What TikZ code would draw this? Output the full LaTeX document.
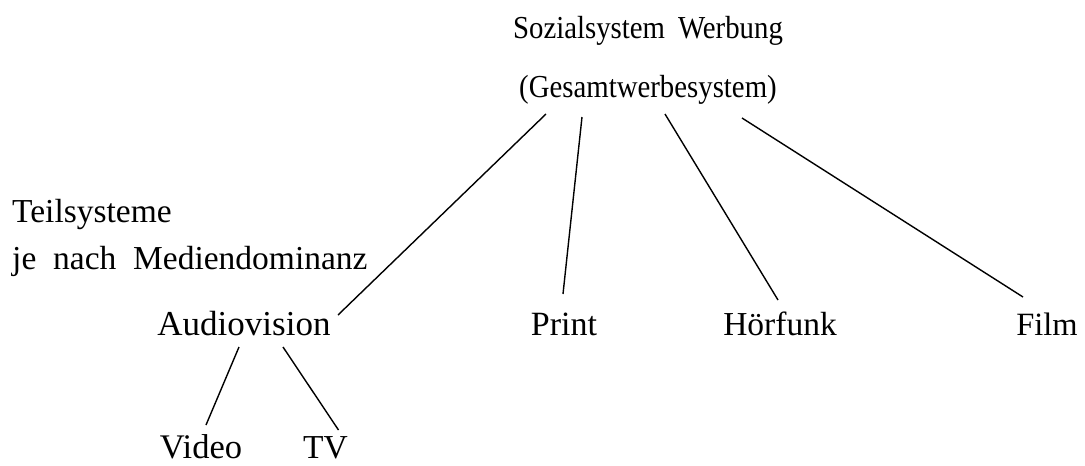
\documentclass[tikz,border=0pt]{standalone}
\usepackage{fontspec}
\usepackage{graphicx}
\setmainfont{Liberation Serif}
\usetikzlibrary{calc}
\begin{document}
\begin{tikzpicture}[x=1pt,y=-1pt,
  lbl/.style={inner sep=0pt, anchor=base, font=\fontsize{34}{40}\selectfont},
  toplbl/.style={inner sep=0pt, anchor=base, font=\fontsize{32}{36}\selectfont},
  edge/.style={line width=1.4pt}]
\useasboundingbox (0,0) rectangle (1085,466);
\node[toplbl] (s) at (648,38) {\scalebox{0.9}[1]{Sozialsystem\hspace{0.45em}Werbung}};
\node[toplbl] (g) at (648,97) {\scalebox{0.9}[1]{(Gesamtwerbesystem)}};
\node[lbl, anchor=base west, font=\fontsize{33.5}{40}\selectfont] (t1) at (12,222) {Teilsysteme};
\node[lbl, anchor=base west, font=\fontsize{33.5}{40}\selectfont] (t2) at (12,269) {je\hspace{0.5em}nach\hspace{0.5em}Mediendominanz};
\node[lbl, font=\fontsize{35}{40}\selectfont] (av) at (244,335) {Audiovision};
\node[lbl, font=\fontsize{34}{40}\selectfont] (pr) at (564,335) {Print};
\node[lbl, font=\fontsize{33.5}{40}\selectfont] (hf) at (780,335) {Hörfunk};
\node[lbl, font=\fontsize{32.5}{40}\selectfont] (fi) at (1047,335) {Film};
\node[lbl, font=\fontsize{34.5}{40}\selectfont] (vi) at (201,458) {Video};
\node[lbl, font=\fontsize{33.5}{40}\selectfont] (tv) at (325.5,458) {TV};
\draw[edge] ($(g.base)+(-102,17)$) -- ($(av.base)+(94,-20)$);
\draw[edge] ($(g.base)+(-66,20)$) -- ($(pr.base)+(-1,-41)$);
\draw[edge] ($(g.base)+(17,17)$) -- ($(hf.base)+(-2,-35)$);
\draw[edge] ($(g.base)+(94,21)$) -- ($(fi.base)+(-24,-38)$);
\draw[edge] ($(av.base)+(-5,12)$) -- ($(vi.base)+(5,-33)$);
\draw[edge] ($(av.base)+(39,12)$) -- ($(tv.base)+(13,-28)$);
\end{tikzpicture}
\end{document}
